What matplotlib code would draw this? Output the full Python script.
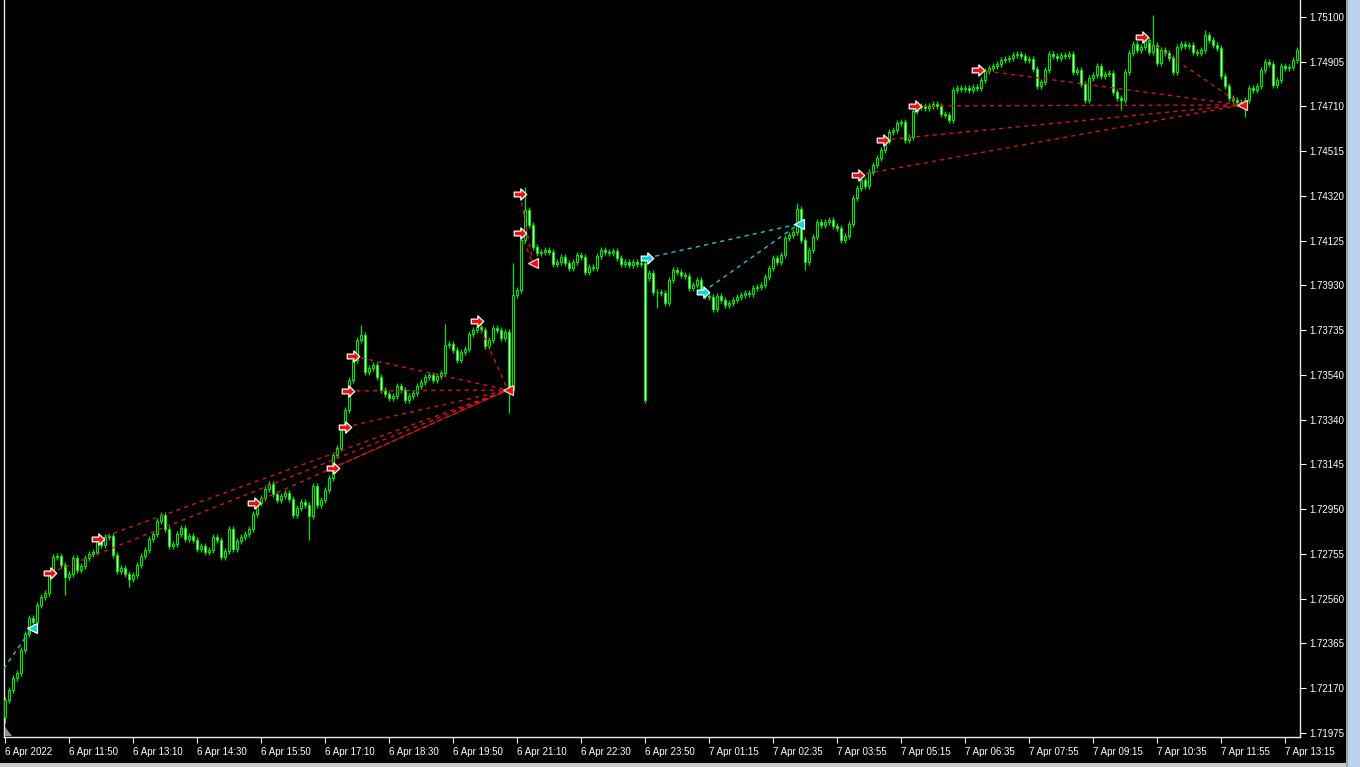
import matplotlib
matplotlib.use("Agg")
import matplotlib.pyplot as plt
from matplotlib.path import Path
from matplotlib import font_manager
import matplotlib.patches as mpatches
import numpy as np

# ---------------- data ----------------
first_open = 1.72045
closes = [
    1.72119, 1.72163, 1.72215, 1.72237, 1.72337, 1.72407, 1.72477, 1.72460, 1.72534, 1.72569,
    1.72586, 1.72673, 1.72743, 1.72748, 1.72708, 1.72656, 1.72669, 1.72739, 1.72686, 1.72704,
    1.72739, 1.72756, 1.72765, 1.72813, 1.72796, 1.72830, 1.72835, 1.72752, 1.72682, 1.72695,
    1.72669, 1.72647, 1.72665, 1.72708, 1.72748, 1.72774, 1.72822, 1.72844, 1.72900, 1.72927,
    1.72866, 1.72791, 1.72800, 1.72844, 1.72870, 1.72822, 1.72835, 1.72817, 1.72778, 1.72791,
    1.72765, 1.72774, 1.72830, 1.72817, 1.72743, 1.72769, 1.72866, 1.72778, 1.72813, 1.72830,
    1.72844, 1.72866, 1.72931, 1.72979, 1.73001, 1.73040, 1.73062, 1.73018, 1.72992, 1.73010,
    1.73023, 1.72996, 1.72927, 1.72957, 1.72983, 1.72970, 1.72922, 1.73053, 1.72970, 1.72992,
    1.73036, 1.73088, 1.73188, 1.73219, 1.73297, 1.73385, 1.73516, 1.73603, 1.73690, 1.73712,
    1.73551, 1.73568, 1.73581, 1.73529, 1.73472, 1.73455, 1.73437, 1.73446, 1.73490, 1.73472,
    1.73428, 1.73446, 1.73459, 1.73490, 1.73507, 1.73529, 1.73538, 1.73516, 1.73533, 1.73546,
    1.73668, 1.73673, 1.73647, 1.73603, 1.73638, 1.73651, 1.73717, 1.73734, 1.73747, 1.73734,
    1.73664, 1.73690, 1.73743, 1.73734, 1.73699, 1.73725, 1.73472, 1.73887, 1.73908, 1.74127,
    1.74258, 1.74192, 1.74096, 1.74070, 1.74074, 1.74083, 1.74074, 1.74022, 1.74031, 1.74053,
    1.74026, 1.74005, 1.74031, 1.74061, 1.74053, 1.73987, 1.74009, 1.74005, 1.74057, 1.74083,
    1.74074, 1.74070, 1.74079, 1.74048, 1.74022, 1.74031, 1.74018, 1.74031, 1.74022, 1.74026,
    1.73428, 1.73983, 1.73900, 1.73900, 1.73896, 1.73852, 1.73952, 1.73996, 1.73987, 1.73974,
    1.73970, 1.73917, 1.73930, 1.73952, 1.73900, 1.73882, 1.73878, 1.73826, 1.73882, 1.73865,
    1.73843, 1.73852, 1.73865, 1.73878, 1.73887, 1.73896, 1.73891, 1.73917, 1.73922, 1.73930,
    1.73965, 1.74005, 1.74048, 1.74031, 1.74061, 1.74135, 1.74149, 1.74162, 1.74262, 1.74127,
    1.74031, 1.74083, 1.74140, 1.74205, 1.74192, 1.74205, 1.74214, 1.74188, 1.74179, 1.74127,
    1.74144, 1.74197, 1.74310, 1.74354, 1.74389, 1.74362, 1.74423, 1.74454, 1.74485, 1.74520,
    1.74559, 1.74598, 1.74607, 1.74637, 1.74642, 1.74563, 1.74576, 1.74690, 1.74707, 1.74712,
    1.74703, 1.74712, 1.74720, 1.74712, 1.74677, 1.74672, 1.74650, 1.74781, 1.74790, 1.74786,
    1.74790, 1.74781, 1.74794, 1.74790, 1.74825, 1.74864, 1.74877, 1.74886, 1.74895, 1.74912,
    1.74917, 1.74921, 1.74934, 1.74939, 1.74930, 1.74912, 1.74917, 1.74873, 1.74799, 1.74816,
    1.74869, 1.74939, 1.74930, 1.74921, 1.74934, 1.74930, 1.74939, 1.74860, 1.74869, 1.74808,
    1.74738, 1.74834, 1.74847, 1.74886, 1.74843, 1.74851, 1.74856, 1.74773, 1.74747, 1.74738,
    1.74860, 1.74943, 1.74982, 1.74956, 1.74969, 1.75000, 1.74947, 1.74978, 1.74899, 1.74956,
    1.74943, 1.74921, 1.74860, 1.74969, 1.74982, 1.74974, 1.74978, 1.74947, 1.74943, 1.74956,
    1.75021, 1.75000, 1.74978, 1.74965, 1.74843, 1.74799, 1.74747, 1.74738, 1.74729, 1.74720,
    1.74738, 1.74790, 1.74781, 1.74799, 1.74869, 1.74904, 1.74895, 1.74803, 1.74825, 1.74886,
    1.74877, 1.74882, 1.74912, 1.74956,
]
open_gaps = {161: 1.73960}
high_spikes = {89: 1.73756, 110: 1.73760, 127: 1.74026, 130: 1.74358, 198: 1.74288,
               287: 1.75109, 300: 1.75043}
low_spikes = {0: 1.72020, 15: 1.72578, 31: 1.72612, 76: 1.72817, 126: 1.73372,
              163: 1.73830, 200: 1.73996, 279: 1.74694, 310: 1.74664}

time_labels = ["6 Apr 2022", "6 Apr 11:50", "6 Apr 13:10", "6 Apr 14:30", "6 Apr 15:50",
               "6 Apr 17:10", "6 Apr 18:30", "6 Apr 19:50", "6 Apr 21:10", "6 Apr 22:30",
               "6 Apr 23:50", "7 Apr 01:15", "7 Apr 02:35", "7 Apr 03:55", "7 Apr 05:15",
               "7 Apr 06:35", "7 Apr 07:55", "7 Apr 09:15", "7 Apr 10:35", "7 Apr 11:55",
               "7 Apr 13:15"]
time_label_bars = [0, 16, 32, 48, 64, 80, 96, 112, 128, 144, 160, 176, 192, 208, 224,
                   240, 256, 272, 288, 304, 320]
price_labels = ["1.71975", "1.72170", "1.72365", "1.72560", "1.72755", "1.72950", "1.73145",
                "1.73340", "1.73540", "1.73735", "1.73930", "1.74125", "1.74320", "1.74515",
                "1.74710", "1.74905", "1.75100"]

# signal groups: (source points, target point)
red_targets = [(125.75, 1.73472), (132.0, 1.74026), (309.25, 1.74716)]
red_sources = [
    [(11.25, 1.72673), (23.25, 1.72822), (62.25, 1.72979), (82.0, 1.73132),
     (85.0, 1.73310), (85.75, 1.73468), (87.0, 1.73620), (118.0, 1.73773)],
    [(128.75, 1.74327), (128.75, 1.74157)],
    [(213.25, 1.74410), (219.5, 1.74563), (227.5, 1.74712), (243.25, 1.74869),
     (284.25, 1.75013)],
]
cyan_targets = [(6.75, 1.72433), (198.5, 1.74197)]
cyan_sources = [[(-3.0, 1.72189)], [(160.5, 1.74048), (174.5, 1.73900)]]

# ---------------- figure ----------------
W, H = 1360, 767
fig = plt.figure(figsize=(W / 100, H / 100), dpi=100, facecolor="black")

names = {f.name for f in font_manager.fontManager.ttflist}
FONT = "Liberation Sans Narrow" if "Liberation Sans Narrow" in names else "Liberation Sans"
FS = 7.5 if FONT.endswith("Narrow") else 7.0

ax = fig.add_axes([4 / W, 30 / H, 1296 / W, 737 / H], facecolor="black")

n = len(closes)
idx = np.arange(n)
opens = [first_open] + closes[:-1]
opens = [open_gaps.get(i, o) for i, o in enumerate(opens)]
opens = np.array(opens)
cl = np.array(closes)
WICK = 0.00013  # display padding for ordinary wicks
hi = np.maximum(opens, cl) + WICK
lo = np.minimum(opens, cl) - WICK
for k, v in high_spikes.items():
    hi[k] = v
for k, v in low_spikes.items():
    lo[k] = v

EDGE = "#00e600"
ax.vlines(idx, lo, hi, color=EDGE, lw=0.9, zorder=2)
bull = cl >= opens
ax.bar(idx[bull], (cl - opens)[bull], bottom=opens[bull], width=0.72,
       color="black", edgecolor=EDGE, linewidth=0.8, zorder=3)
ax.bar(idx[~bull], (cl - opens)[~bull], bottom=opens[~bull], width=0.72,
       color="#d6ffd6", edgecolor=EDGE, linewidth=0.8, zorder=3)

# arrow marker path
arrow = Path([(-1, 0.38), (0.05, 0.38), (0.05, 0.9), (1, 0), (0.05, -0.9), (0.05, -0.38),
              (-1, -0.38), (-1, 0.38)],
             [Path.MOVETO] + [Path.LINETO] * 6 + [Path.CLOSEPOLY])


def draw_group(sources, target, col, face, tedge):
    for (sx, sy) in sources:
        ax.plot([sx, target[0]], [sy, target[1]], color=col, lw=1.0,
                linestyle=(0, (3, 3)), zorder=4)
    for (sx, sy) in sources:
        ax.plot(sx, sy, marker=arrow, ms=9, mfc=face, mec="white", mew=0.9, zorder=6)
    ax.plot(target[0], target[1], marker="<", ms=7, mfc=face, mec=tedge, mew=0.9, zorder=6)


for srcs, tgt in zip(red_sources, red_targets):
    draw_group(srcs, tgt, "#d41414", "#ee1010", "#ffd0d0")
for srcs, tgt in zip(cyan_sources, cyan_targets):
    draw_group(srcs, tgt, "#22c4d4", "#00d8e8", "white")

# axes limits / scales
step = 0.03125 / 716.0
ax.set_xlim(-0.25, 323.75)
ax.set_ylim(1.71975 - 4 * step, 1.75100 + 17 * step)

ax.yaxis.tick_right()
yt = [1.71975 + k * 0.03125 / 16 for k in range(17)]
ax.set_yticks(yt)
ax.set_yticklabels(price_labels)
ax.set_xticks(time_label_bars)
ax.set_xticklabels(time_labels, ha="left")
ax.tick_params(axis="both", colors="white", labelcolor="white", length=4, width=0.8,
               direction="out", labelsize=FS)
ax.tick_params(axis="y", pad=3)
ax.tick_params(axis="x", pad=3)
for lab in ax.get_xticklabels() + ax.get_yticklabels():
    lab.set_fontfamily(FONT)
for s in ["left", "bottom", "right"]:
    ax.spines[s].set_color("#e8e8e8")
    ax.spines[s].set_linewidth(1.0)
ax.spines["top"].set_visible(False)

# small shift marker (grey triangle) bottom-left
fig.patches.append(mpatches.Polygon([[5 / W, 31 / H], [12 / W, 31 / H], [5 / W, 40 / H]],
                                    closed=True, transform=fig.transFigure,
                                    facecolor="#909090", edgecolor="none"))
# window frame: bottom grey strip, right scrollbar strip
fig.patches.append(mpatches.Rectangle((0, 0), 1, 4 / H, transform=fig.transFigure,
                                      facecolor="#c8c8c8", edgecolor="none"))
fig.patches.append(mpatches.Rectangle((1346 / W, 0), 14 / W, 1, transform=fig.transFigure,
                                      facecolor="#b9d3ec", edgecolor="none"))
fig.patches.append(mpatches.Rectangle((1346 / W, 0), 1.5 / W, 1, transform=fig.transFigure,
                                      facecolor="#a0a0a0", edgecolor="none"))

fig.savefig("out.png", dpi=100, facecolor="black")
